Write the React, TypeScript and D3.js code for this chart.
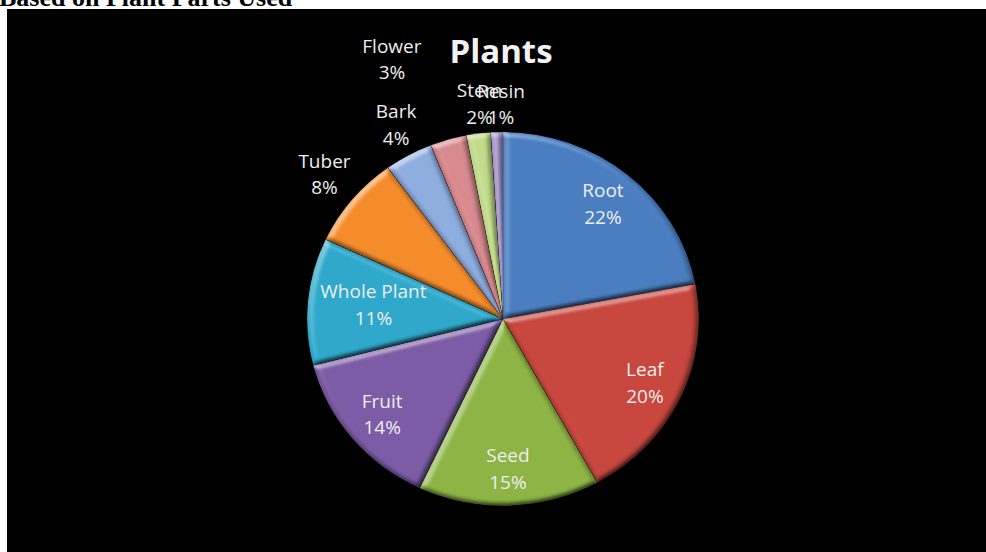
import React from "react";
import * as d3 from "d3";

// ---- data ----
const categories = ["Root", "Leaf", "Seed", "Fruit", "Whole Plant", "Tuber", "Bark", "Flower", "Stem", "Resin"];
const shares = [22, 20, 15, 14, 11, 8, 4, 3, 2, 1];
const sliceColors = ["#4A7EC0", "#C8473F", "#8DB444", "#7C5CA6", "#2FA8CB", "#F48C2C", "#8EAEE0", "#D98A8E", "#C2DC8C", "#A896CC"];
const chartTitle = "Plants";
const pageHeading = "Based on Plant Parts Used";

// ---- layout ----
const W = 986;
const H = 552;
const CX = 503;
const CY = 319;
const RX = 196;
const RY = 187;
const LABEL_FONT = 19;
const LINE_GAP = 26.6;
const CAP = 13.6;
const INSIDE_MIN = 10; // shares below this get outside labels
// manual nudge for one crowded outside label (direction shift in degrees, radius factor of label centre)
const labelNudge: Record<string, { turn: number; radius: number }> = { Flower: { turn: -6, radius: 1.5 } };

let ctx: CanvasRenderingContext2D | null = null;
function textWidth(t: string) {
  if (!ctx) ctx = document.createElement("canvas").getContext("2d");
  if (!ctx) return t.length * LABEL_FONT * 0.55;
  ctx.font = `${LABEL_FONT}px "Open Sans"`;
  return ctx.measureText(t).width;
}

function normDist(x: number, y: number) {
  return Math.sqrt(((x - CX) / RX) ** 2 + ((y - CY) / RY) ** 2);
}

export default function App() {
  const pie = d3.pie<number>().sort(null).value((d) => d).startAngle(0).endAngle(2 * Math.PI);
  const arcs = pie(shares);
  const arcGen = d3.arc<d3.PieArcDatum<number>>().innerRadius(0).outerRadius(RX);

  const labels = arcs.map((a, i) => {
    const name = categories[i];
    const pct = `${shares[i]}%`;
    let mid = (a.startAngle + a.endAngle) / 2;
    const hw = Math.max(textWidth(name), textWidth(pct)) / 2;
    const hh = (LINE_GAP + CAP) / 2;
    let lx: number, ly: number;
    if (shares[i] >= INSIDE_MIN) {
      lx = CX + RX * 0.8 * Math.sin(mid);
      ly = CY - RY * 0.8 * Math.cos(mid);
      const farY = Math.max(Math.abs(ly - hh - CY), Math.abs(ly + hh - CY));
      const ex = RX * Math.sqrt(Math.max(0, 1 - (farY / RY) ** 2)) - 10;
      if (lx - hw < CX - ex) lx = CX - ex + hw;
      if (lx + hw > CX + ex) lx = CX + ex - hw;
    } else {
      const nudge = labelNudge[name];
      if (nudge) {
        mid += (nudge.turn * Math.PI) / 180;
        lx = CX + RX * nudge.radius * Math.sin(mid);
        ly = CY - RY * nudge.radius * Math.cos(mid);
      } else {
        let f = 1.0;
        for (; f < 2; f += 0.005) {
          const x0 = CX + RX * f * Math.sin(mid);
          const y0 = CY - RY * f * Math.cos(mid);
          const pts = [
            [x0 - hw, y0 - hh], [x0 + hw, y0 - hh], [x0 - hw, y0 + hh], [x0 + hw, y0 + hh],
            [x0, y0 - hh], [x0, y0 + hh], [x0 - hw, y0], [x0 + hw, y0],
          ];
          if (pts.every(([x, y]) => normDist(x, y) >= 1.04)) break;
        }
        lx = CX + RX * f * Math.sin(mid) + 5;
        ly = CY - RY * f * Math.cos(mid);
      }
    }
    const b1 = ly - hh + CAP;
    return { name, pct, x: lx, b1 };
  });

  return (
    <div style={{ position: "fixed", left: 0, top: 0, width: W, height: H, background: "#fff", overflow: "hidden" }}>
      <svg width={W} height={H} style={{ display: "block" }}>
        <defs>
          <filter id="bevel" x="-20%" y="-20%" width="140%" height="140%" colorInterpolationFilters="sRGB">
            <feGaussianBlur in="SourceAlpha" stdDeviation="3" result="blur" />
            <feDiffuseLighting in="blur" surfaceScale="4" diffuseConstant="1" lightingColor="#ffffff" result="light">
              <feDistantLight azimuth="235" elevation="55" />
            </feDiffuseLighting>
            <feColorMatrix
              in="light"
              type="matrix"
              values="0 0 0 0 1  0 0 0 0 1  0 0 0 0 1  2.6 0 0 0 -2.13"
              result="hi"
            />
            <feColorMatrix
              in="light"
              type="matrix"
              values="0 0 0 0 0  0 0 0 0 0  0 0 0 0 0  -0.9 0 0 0 0.737"
              result="lo"
            />
            <feMerge result="lit">
              <feMergeNode in="SourceGraphic" />
              <feMergeNode in="hi" />
              <feMergeNode in="lo" />
            </feMerge>
            <feComposite in="lit" in2="SourceAlpha" operator="in" />
          </filter>
        </defs>
        <text x={-1} y={5.5} fontFamily='"Liberation Serif", "Times New Roman", serif' fontWeight="bold" fontSize={26} fill="#000">
          {pageHeading}
        </text>
        <rect x={7} y={9} width={W} height={H} fill="#000" />
        <g transform={`translate(${CX},${CY}) scale(1,${RY / RX})`}>
          {arcs.map((a, i) => (
            <path
              key={categories[i]}
              d={arcGen(a) || ""}
              fill={sliceColors[i]}
              stroke="rgba(0,0,0,0.3)"
              strokeWidth={0.7}
              filter="url(#bevel)"
            />
          ))}
        </g>
        <text
          x={501}
          y={63}
          textAnchor="middle"
          fontFamily='"Open Sans", sans-serif'
          fontWeight="bold"
          fontSize={33}
          fill="#f2f2f2"
        >
          {chartTitle}
        </text>
        {labels.map((l) => (
          <text
            key={l.name}
            x={l.x}
            y={l.b1}
            textAnchor="middle"
            fontFamily='"Open Sans", sans-serif'
            fontSize={LABEL_FONT}
            fill="#eeeeee"
          >
            <tspan x={l.x} y={l.b1}>{l.name}</tspan>
            <tspan x={l.x} y={l.b1 + LINE_GAP}>{l.pct}</tspan>
          </text>
        ))}
      </svg>
    </div>
  );
}
